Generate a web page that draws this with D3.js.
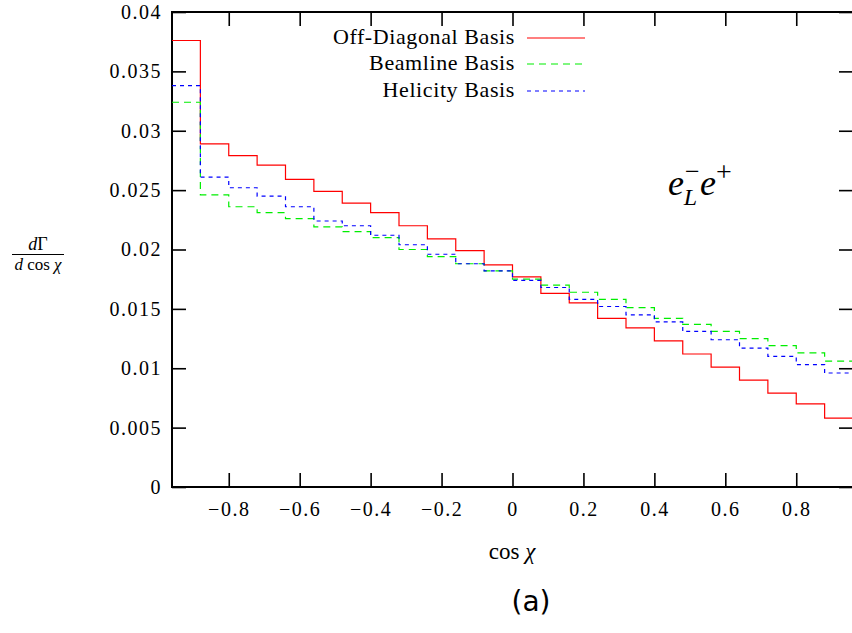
<html>
<head>
<meta charset="utf-8">
<script src="https://d3js.org/d3.v7.min.js"></script>
<style type="text/css">
  body { margin: 0; background: #fff; }
  .tick text { font-family: "Liberation Serif", serif; font-size: 20px; letter-spacing: 1.5px; fill: #000; }
  .tick line { stroke: #000; stroke-width: 1.6; }
  .domain { display: none; }
  .serif { font-family: "Liberation Serif", serif; fill: #000; }
</style>
</head>
<body>
<svg id="chart" width="852" height="633"></svg>

<script>
// lower edges of the histogram bins, last bin closes at binHi
var binLo = [-0.96, -0.88, -0.80, -0.72, -0.64, -0.56, -0.48, -0.40, -0.32, -0.24, -0.16, -0.08,
             0, 0.08, 0.16, 0.24, 0.32, 0.40, 0.48, 0.56, 0.64, 0.72, 0.80, 0.88];
var binHi = 0.96;

var offDiagonal = [0.0376, 0.0289, 0.0279, 0.0271, 0.0259, 0.0249, 0.0239, 0.0231, 0.0220, 0.0209, 0.0199, 0.0187,
                   0.0177, 0.0163, 0.0155, 0.0142, 0.0134, 0.0123, 0.0112, 0.0101, 0.0090, 0.0079, 0.0070, 0.0058];
var beamline    = [0.0324, 0.0246, 0.0236, 0.0231, 0.0226, 0.0219, 0.0215, 0.0210, 0.0200, 0.0194, 0.0188, 0.0182,
                   0.0175, 0.0170, 0.0164, 0.0158, 0.0151, 0.0142, 0.0137, 0.0131, 0.0125, 0.0119, 0.0113, 0.0106];
var helicity    = [0.0338, 0.0261, 0.0252, 0.0245, 0.0236, 0.0224, 0.0220, 0.0212, 0.0204, 0.0196, 0.0188, 0.0182,
                   0.0174, 0.0168, 0.0158, 0.0152, 0.0145, 0.0139, 0.0131, 0.0124, 0.0117, 0.0110, 0.0103, 0.0096];

var seriesNames = ["Off-Diagonal Basis", "Beamline Basis", "Helicity Basis"];

var xTicks = [-0.8, -0.6, -0.4, -0.2, 0, 0.2, 0.4, 0.6, 0.8];
var xTickLabels = ["\u22120.8", "\u22120.6", "\u22120.4", "\u22120.2", "0", "0.2", "0.4", "0.6", "0.8"];
var yTicks = [0, 0.005, 0.01, 0.015, 0.02, 0.025, 0.03, 0.035, 0.04];
var yTickLabels = ["0", "0.005", "0.01", "0.015", "0.02", "0.025", "0.03", "0.035", "0.04"];

function draw() {
  var svg = d3.select("#chart");
  var pl = 172, pr = 853, pt = 12, pb = 487;

  var x = d3.scaleLinear().domain([binLo[0], binHi]).range([pl, pr]);
  var y = d3.scaleLinear().domain([0, 0.04]).range([pb, pt]);

  // axes, ticks drawn inward like gnuplot
  svg.append("g").attr("transform", "translate(" + pl + ",0)")
    .call(d3.axisLeft(y).tickValues(yTicks).tickSize(-14).tickPadding(10)
      .tickFormat(function(d, i) { return yTickLabels[i]; }))
    .attr("font-family", "Liberation Serif").attr("font-size", 20);
  svg.append("g").attr("transform", "translate(" + pr + ",0)")
    .call(d3.axisRight(y).tickValues(yTicks).tickSize(-14).tickFormat(""));
  svg.append("g").attr("transform", "translate(0," + pb + ")")
    .call(d3.axisBottom(x).tickValues(xTicks).tickSize(-14).tickPadding(15)
      .tickFormat(function(d, i) { return xTickLabels[i]; }))
    .attr("font-family", "Liberation Serif").attr("font-size", 20);
  svg.append("g").attr("transform", "translate(0," + pt + ")")
    .call(d3.axisTop(x).tickValues(xTicks).tickSize(-14).tickFormat(""));

  svg.append("rect")
    .attr("x", pl).attr("y", pt)
    .attr("width", pr - pl).attr("height", pb - pt)
    .attr("fill", "none").attr("stroke", "#000").attr("stroke-width", 2);

  // histogram steps
  var series = [
    {name: seriesNames[0], values: offDiagonal, color: "#ff0000", dash: null},
    {name: seriesNames[1], values: beamline, color: "#00ee00", dash: "7,5"},
    {name: seriesNames[2], values: helicity, color: "#0000ff", dash: "4,4"}
  ];

  var line = d3.line()
    .x(function(d) { return x(d[0]); })
    .y(function(d) { return y(d[1]); })
    .curve(d3.curveStepAfter);

  series.forEach(function(s) {
    var pts = binLo.map(function(b, i) { return [b, s.values[i]]; });
    pts.push([binHi, s.values[s.values.length - 1]]);
    svg.append("path")
      .attr("d", line(pts))
      .attr("fill", "none")
      .attr("stroke", s.color)
      .attr("stroke-width", 1.2)
      .attr("stroke-dasharray", s.dash);
  });

  // legend
  var legY = [38, 64, 91];
  series.forEach(function(s, i) {
    svg.append("text").attr("class", "serif")
      .attr("x", 515).attr("y", legY[i] + 6)
      .attr("text-anchor", "end")
      .style("font-size", "22px")
      .style("letter-spacing", "0.6px")
      .text(s.name);
    svg.append("line")
      .attr("x1", 527).attr("x2", 585)
      .attr("y1", legY[i]).attr("y2", legY[i])
      .attr("stroke", s.color).attr("stroke-width", 1.2)
      .attr("stroke-dasharray", s.dash);
  });

  // e_L^- e^+ label
  var lab = svg.append("text").attr("class", "serif")
    .attr("x", 668).attr("y", 195)
    .style("font-size", "36px").style("font-style", "italic");
  lab.append("tspan").text("e");
  lab.append("tspan").attr("dx", 1).attr("dy", -15).style("font-size", "26px").style("font-style", "normal").text("\u2212");
  lab.append("tspan").attr("dx", -16).attr("dy", 25).style("font-size", "24px").text("L");
  lab.append("tspan").attr("dx", 3).attr("dy", -10).text("e");
  lab.append("tspan").attr("dy", -14).style("font-size", "28px").style("font-style", "normal").text("+");

  // y label as a fraction
  var fx = 38;
  var num = svg.append("text").attr("class", "serif")
    .attr("x", fx).attr("y", 250).attr("text-anchor", "middle").style("font-size", "18px");
  num.append("tspan").style("font-style", "italic").text("d");
  num.append("tspan").text("\u0393");
  svg.append("line").attr("x1", 12).attr("x2", 64).attr("y1", 254.5).attr("y2", 254.5)
    .attr("stroke", "#000").attr("stroke-width", 1);
  var den = svg.append("text").attr("class", "serif")
    .attr("x", fx).attr("y", 270).attr("text-anchor", "middle").style("font-size", "17px");
  den.append("tspan").style("font-style", "italic").text("d");
  den.append("tspan").text(" cos ");
  den.append("tspan").style("font-style", "italic").text("\u03c7");

  // x label
  var xl = svg.append("text").attr("class", "serif")
    .attr("x", 512).attr("y", 559).attr("text-anchor", "middle").style("font-size", "23px");
  xl.append("tspan").text("cos ");
  xl.append("tspan").style("font-style", "italic").text("\u03c7");

  svg.append("text")
    .attr("x", 531).attr("y", 611)
    .attr("text-anchor", "middle")
    .style("font-family", "DejaVu Sans, sans-serif")
    .style("font-size", "28px")
    .text("(a)");
}

draw();
</script>
</body>
</html>
